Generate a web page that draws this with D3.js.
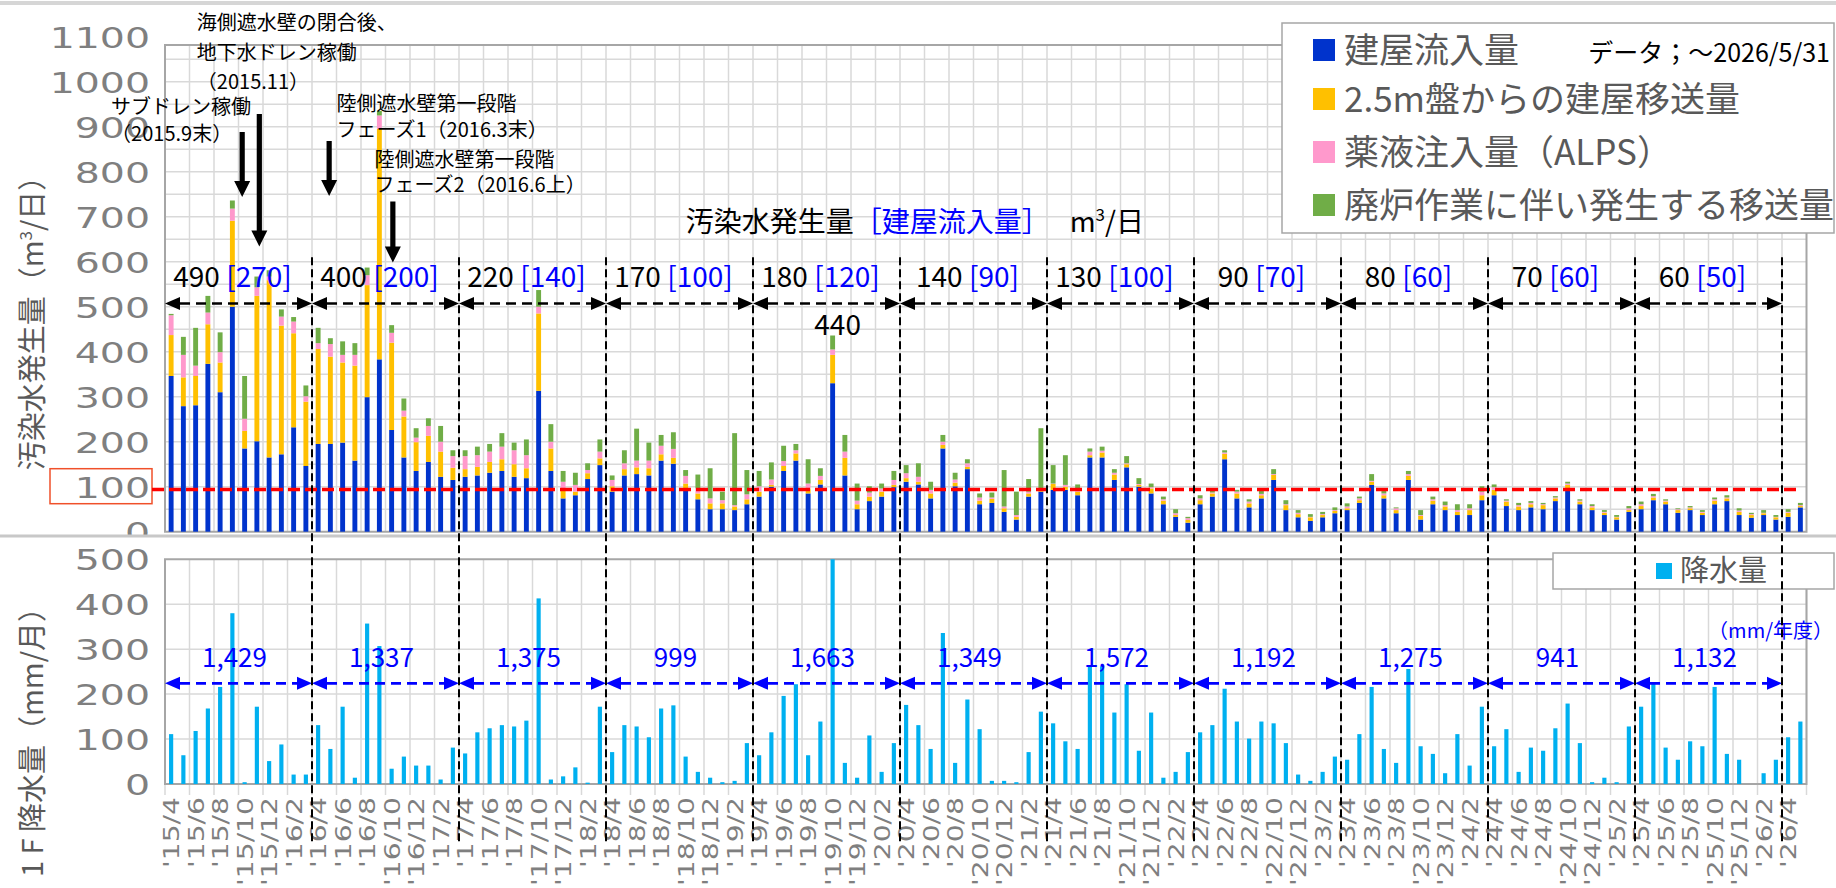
<!DOCTYPE html>
<html><head><meta charset="utf-8">
<script src="https://cdn.jsdelivr.net/npm/d3@7"></script>
<style>body{margin:0;background:#fff}svg{display:block}</style>
</head><body><svg id="c" width="1836" height="888"></svg>
<script>
// ---------------- DATA ----------------
const months = [];
for (let y = 2015, m = 4; months.length < 134;) { months.push("'" + String(y).slice(2) + "/" + m); m++; if (m > 12) { m = 1; y++; } }

const inflow = [346,279,281,373,310,500,185,201,165,172,232,146,
195,195,198,158,299,383,226,165,135,155,122,115,
122,125,131,135,122,119,313,135,74,81,117,148,
89,125,128,125,158,151,94,72,50,50,48,61,
78,100,135,158,85,105,330,125,50,68,78,99,
111,105,74,185,101,139,61,64,44,27,78,89,
93,93,81,165,165,115,143,100,85,61,33,20,
61,78,161,74,54,74,115,48,32,24,32,41,
48,64,104,74,41,115,27,61,48,37,37,70,
81,57,48,54,50,68,94,61,48,37,27,44,
50,70,61,42,48,37,61,68,37,31,37,27,33,54];
const transfer25 = [91,64,65,88,66,191,39,323,394,286,209,143,
211,194,178,211,249,512,194,91,64,58,56,27,
17,19,24,26,28,22,172,50,19,8,13,15,
12,14,15,16,14,13,13,13,13,13,8,11,
11,4,11,16,11,10,63,39,11,10,11,5,
8,6,11,8,8,5,8,9,8,6,7,3,
13,7,8,5,11,12,7,4,11,8,4,6,
9,7,12,11,9,7,11,11,7,8,5,5,
4,6,7,7,7,9,8,8,8,7,11,11,
12,10,8,7,9,6,10,6,6,5,5,4,
7,6,6,6,4,5,8,6,7,6,4,5,9,3];
const alpsInj = [44,50,23,26,23,27,27,19,8,20,26,12,
13,28,17,24,22,30,22,13,10,22,22,26,
29,26,23,28,31,29,15,15,18,15,7,15,
14,13,15,17,19,20,17,11,11,7,3,11,
12,12,11,7,11,9,12,14,8,9,7,11,
11,11,8,7,7,8,7,3,4,4,4,2,
1,4,7,8,4,4,2,2,3,3,4,4,
4,2,3,4,4,3,2,2,3,1,2,2,
4,4,2,4,4,4,2,3,3,4,4,8,
6,2,3,3,2,2,3,2,3,2,1,4,
4,3,2,2,2,2,3,2,3,2,1,1,2,2];
const decom = [3,40,84,37,44,18,95,24,14,16,10,24,
34,13,30,26,17,10,17,27,21,17,35,13,
13,19,17,30,17,35,37,39,24,27,15,27,
10,29,71,40,24,37,13,31,67,19,160,54,
34,38,34,14,54,17,31,37,38,14,11,20,
18,30,18,15,15,9,9,11,81,52,28,136,
41,66,9,7,9,8,16,13,8,6,9,3,
7,4,5,4,5,7,11,9,6,6,5,6,
7,4,15,8,2,7,11,6,8,13,9,12,
6,3,5,4,3,3,4,3,4,4,4,5,
6,5,3,2,3,4,4,5,5,3,6,4,6,5];
const rain = [111,64,118,168,216,380,4,172,51,88,21,21,
131,78,172,14,357,307,34,61,41,41,10,81,
68,115,124,131,128,141,413,10,17,37,3,172,
71,131,128,104,168,175,61,27,14,4,7,91,
64,115,196,222,64,139,576,47,14,108,27,91,
176,131,78,336,47,188,122,7,7,4,71,161,
135,95,78,262,262,159,222,74,159,14,27,71,
115,131,212,139,101,139,135,91,21,7,27,61,
54,111,216,78,47,256,84,67,24,111,41,172,
84,122,27,81,74,124,179,91,4,14,4,128,
172,225,81,54,95,84,216,67,54,0,24,54,104,139];

const fyTotal = [490,400,220,170,180,140,130,90,80,70,60];
const fyInflow = [270,200,140,100,120,90,100,70,60,60,50];
const fyRain = ["1,429","1,337","1,375","999","1,663","1,349","1,572","1,192","1,275","941","1,132"];
const yTicksTop = [0,100,200,300,400,500,600,700,800,900,1000,1100];
const yTicksRain = [0,100,200,300,400,500];
const seriesNames = ["建屋流入量","2.5m盤からの建屋移送量","薬液注入量（ALPS）","廃炉作業に伴い発生する移送量"];
const seriesColors = ["#0033cc","#ffc000","#ff99cc","#70ad47"];
const targetLine = 94;
const peakLabel = {i: 54, text: "440", v: 459};

// ---------------- LAYOUT ----------------
const W = 1836, H = 888;
const X0 = 165, X1 = 1806.5;
const N = months.length;
const FJ = '"Noto Sans CJK JP","Noto Sans",sans-serif';
const FN = '"DejaVu Sans",sans-serif';
const GRAY = "#595959", GRID = "#d9d9d9", BORDER = "#a6a6a6", BLUE = "#0000ff";

const xm = d3.scaleLinear().domain([0, N]).range([X0, X1]);
const xb = d3.scaleBand().domain(d3.range(N)).range([X0, X1]).paddingInner(0.6).paddingOuter(0.3);
const xr = d3.scaleBand().domain(d3.range(N)).range([X0, X1]).paddingInner(0.66).paddingOuter(0.33);
const xl = d3.scaleBand().domain(months).range([X0, X1]);
const yTop = d3.scaleLinear().domain([0, 1100]).range([531.7, 36.7]);
const yRain = d3.scaleLinear().domain([0, 500]).range([784, 559.3]);
const TOP_Y0 = 45, TOP_Y1 = 531.7, RAIN_Y0 = 559.3, RAIN_Y1 = 784;

const svg = d3.select("#c");
svg.append("rect").attr("width", W).attr("height", H).attr("fill", "#fff");
svg.append("rect").attr("x", 0).attr("y", 1).attr("width", W).attr("height", 4).attr("fill", "#d6d6d6");

// ---------- TOP PANEL ----------
const gT = svg.append("g");
gT.selectAll("line.h").data(d3.range(50, 1100, 50)).join("line")
  .attr("x1", X0).attr("x2", X1).attr("y1", d => yTop(d)).attr("y2", d => yTop(d))
  .attr("stroke", GRID).attr("stroke-width", 1.5);
gT.selectAll("line.v").data(d3.range(2, N, 2)).join("line")
  .attr("x1", d => xm(d)).attr("x2", d => xm(d)).attr("y1", TOP_Y0).attr("y2", TOP_Y1)
  .attr("stroke", GRID).attr("stroke-width", 1.5);
gT.append("path").attr("d", `M${X0},${TOP_Y1}V${TOP_Y0}H${X1}V${TOP_Y1}Z`)
  .attr("fill", "none").attr("stroke", BORDER).attr("stroke-width", 2);

const rows = d3.range(N).map(i => ({i, b: inflow[i], o: transfer25[i], p: alpsInj[i], g: decom[i]}));
const stack = d3.stack().keys(["b", "o", "p", "g"])(rows);
gT.selectAll("g.s").data(stack).join("g").attr("fill", (d, k) => seriesColors[k])
  .selectAll("rect").data(d => d).join("rect")
  .attr("x", d => xb(d.data.i)).attr("width", xb.bandwidth())
  .attr("y", d => yTop(d[1])).attr("height", d => Math.max(0, yTop(d[0]) - yTop(d[1])));

// y axis labels (top)
const axT = svg.append("g").attr("transform", "translate(150,0)")
  .call(d3.axisLeft(yTop).tickValues(yTicksTop).tickFormat(d3.format("d")).tickSize(0).tickPadding(0));
axT.select(".domain").remove();
axT.selectAll("text").attr("font-family", FN).attr("font-size", 29).attr("fill", "#7f7f7f")
  .attr("dy", "0.36em").attr("x", 0)
  .each(function () { const L = this.getComputedTextLength(); d3.select(this).attr("textLength", L * 1.36).attr("lengthAdjust", "spacingAndGlyphs"); });
// red box around 100
svg.append("rect").attr("x", 50).attr("y", yTop(100) - 18).attr("width", 102).attr("height", 35)
  .attr("fill", "none").attr("stroke", "#f0502a").attr("stroke-width", 1.5);
// target line
svg.append("line").attr("x1", 152).attr("x2", 1800).attr("y1", yTop(targetLine)).attr("y2", yTop(targetLine))
  .attr("stroke", "#ff0000").attr("stroke-width", 3.5).attr("stroke-dasharray", "12,5");

// title inside top
const tt = svg.append("text").attr("x", xm(42.5)).attr("y", yTop(688)).attr("dy", "0.36em")
  .attr("font-family", FJ).attr("font-size", 28).attr("fill", "#000");
tt.append("tspan").text("汚染水発生量");
tt.append("tspan").attr("fill", BLUE).text("［建屋流入量］");
tt.append("tspan").attr("dx", 20).text("m");
tt.append("tspan").attr("font-size", 17).attr("dy", -11).text("3");
tt.append("tspan").attr("dy", 11).text("/日");

// peak label
svg.append("text").attr("x", xm(peakLabel.i + 0.5) + 5).attr("y", yTop(peakLabel.v)).attr("dy", "0.36em")
  .attr("text-anchor", "middle").attr("font-family", FJ).attr("font-size", 28).text(peakLabel.text);

// annotations
const notes = [
  {m: 2.6, v: 1130, t: "海側遮水壁の閉合後、"},
  {m: 2.6, v: 1064, t: "地下水ドレン稼働"},
  {m: 2.6, v: 1000, t: "（2015.11）"},
  {m: -4.4, v: 945, t: "サブドレン稼働"},
  {m: -4.4, v: 885, t: "（2015.9末）"},
  {m: 14.0, v: 952, t: "陸側遮水壁第一段階"},
  {m: 14.0, v: 894, t: "フェーズ1（2016.3末）"},
  {m: 17.1, v: 827, t: "陸側遮水壁第一段階"},
  {m: 17.1, v: 770, t: "フェーズ2（2016.6上）"}
];
svg.selectAll("text.note").data(notes).join("text").attr("class", "note")
  .attr("x", d => xm(d.m)).attr("y", d => yTop(d.v)).attr("dy", "0.36em")
  .attr("font-family", FJ).attr("font-size", 20).attr("fill", "#000").text(d => d.t);
const arrows = [{m: 6.3, v1: 888, v2: 744}, {m: 7.7, v1: 928, v2: 634}, {m: 13.4, v1: 868, v2: 746}, {m: 18.6, v1: 734, v2: 598}];
svg.selectAll("path.ann").data(arrows).join("path").attr("class", "ann")
  .attr("d", d => { const x = xm(d.m), y1 = yTop(d.v1), y2 = yTop(d.v2), s = 2.6, hw = 8, hh = 16;
    return `M${x - s},${y1}H${x + s}V${y2 - hh}H${x + hw}L${x},${y2}L${x - hw},${y2 - hh}H${x - s}Z`; })
  .attr("fill", "#000");

// legend top
const lg = svg.append("g");
lg.append("rect").attr("x", 1282).attr("y", 23).attr("width", 552).attr("height", 210)
  .attr("fill", "#fff").attr("stroke", BORDER).attr("stroke-width", 1.5);
const lgY = [50, 99, 152, 205];
seriesNames.forEach((n, k) => {
  lg.append("rect").attr("x", 1313).attr("y", lgY[k] - 11).attr("width", 22).attr("height", 22).attr("fill", seriesColors[k]);
  lg.append("text").attr("x", 1344).attr("y", lgY[k]).attr("dy", "0.36em").attr("font-family", FJ)
    .attr("font-size", 35).attr("fill", GRAY).text(n);
});
lg.append("text").attr("x", 1830).attr("y", 53).attr("dy", "0.36em").attr("text-anchor", "end")
  .attr("font-family", FJ).attr("font-size", 25).attr("fill", "#000").text("データ；～2026/5/31");

// y-axis title top
svg.append("text").attr("transform", "translate(33,316) rotate(-90)").attr("text-anchor", "middle").attr("dy", "0.36em")
  .attr("font-family", FJ).attr("font-size", 29).attr("fill", GRAY)
  .call(t => { t.append("tspan").text("汚染水発生量（m"); t.append("tspan").attr("font-size", 17).attr("dy", -11).text("3"); t.append("tspan").attr("dy", 11).text("/日）"); });

// ---------- BOTTOM PANEL ----------
svg.append("rect").attr("x", 0).attr("y", 537).attr("width", W).attr("height", H - 537).attr("fill", "#fff");
svg.append("rect").attr("x", 0).attr("y", 534.5).attr("width", W).attr("height", 3).attr("fill", "#c8c8c8");

const gR = svg.append("g");
gR.selectAll("line.h").data(yTicksRain.slice(1, -1)).join("line")
  .attr("x1", X0).attr("x2", X1).attr("y1", d => yRain(d)).attr("y2", d => yRain(d))
  .attr("stroke", GRID).attr("stroke-width", 1.5);
gR.selectAll("line.v").data(d3.range(0, N + 1, 2)).join("line")
  .attr("x1", d => xm(d)).attr("x2", d => xm(d)).attr("y1", RAIN_Y0).attr("y2", RAIN_Y1 + 11)
  .attr("stroke", GRID).attr("stroke-width", 1.5);
gR.append("path").attr("d", `M${X0},${RAIN_Y1}V${RAIN_Y0}H${X1}V${RAIN_Y1}Z`)
  .attr("fill", "none").attr("stroke", BORDER).attr("stroke-width", 2);
svg.append("clipPath").attr("id", "rc").append("rect").attr("x", X0).attr("y", RAIN_Y0).attr("width", X1 - X0).attr("height", RAIN_Y1 - RAIN_Y0);
gR.append("g").attr("clip-path", "url(#rc)").selectAll("rect").data(rain).join("rect")
  .attr("x", (d, i) => xr(i)).attr("width", xr.bandwidth())
  .attr("y", d => yRain(d)).attr("height", d => yRain(0) - yRain(d)).attr("fill", "#00b0f0");

const axR = svg.append("g").attr("transform", "translate(150,0)")
  .call(d3.axisLeft(yRain).tickValues(yTicksRain).tickFormat(d3.format("d")).tickSize(0).tickPadding(0));
axR.select(".domain").remove();
axR.selectAll("text").attr("font-family", FN).attr("font-size", 29).attr("fill", "#7f7f7f")
  .attr("dy", "0.36em").attr("x", 0)
  .each(function () { const L = this.getComputedTextLength(); d3.select(this).attr("textLength", L * 1.36).attr("lengthAdjust", "spacingAndGlyphs"); });

svg.append("text").attr("transform", "translate(33,735) rotate(-90)").attr("text-anchor", "middle").attr("dy", "0.36em")
  .attr("font-family", FJ).attr("font-size", 29).attr("fill", GRAY).text("1 F 降水量（mm/月）");

// x axis labels
const axX = svg.append("g").attr("transform", "translate(0,797)")
  .call(d3.axisBottom(xl).tickValues(months.filter((d, i) => i % 2 === 0)).tickSize(0));
axX.select(".domain").remove();
axX.selectAll("text").attr("transform", "rotate(-90)").attr("x", 0).attr("y", 0).attr("dy", "0.36em")
  .style("text-anchor", "end").attr("font-family", FN).attr("font-size", 22).attr("fill", "#7f7f7f")
  .each(function () { const L = this.getComputedTextLength(); d3.select(this).attr("textLength", L * 1.28).attr("lengthAdjust", "spacingAndGlyphs"); });

// rain legend
svg.append("rect").attr("x", 1553).attr("y", 553).attr("width", 281).attr("height", 36)
  .attr("fill", "#fff").attr("stroke", BORDER).attr("stroke-width", 1.5);
svg.append("rect").attr("x", 1656).attr("y", 563).attr("width", 16).attr("height", 16).attr("fill", "#00b0f0");
svg.append("text").attr("x", 1680).attr("y", 571).attr("dy", "0.36em").attr("font-family", FJ)
  .attr("font-size", 29).attr("fill", GRAY).text("降水量");
svg.append("text").attr("x", 1833).attr("y", yRain(340)).attr("dy", "0.36em").attr("text-anchor", "end")
  .attr("font-family", FJ).attr("font-size", 20).attr("fill", BLUE).text("（mm/年度）");

// ---------- FY spans ----------
function dblArrow(g, xa, xb2, y, color, w) {
  const L = 15, h = 13;
  g.append("line").attr("x1", xa + L).attr("x2", xb2 - L).attr("y1", y).attr("y2", y)
    .attr("stroke", color).attr("stroke-width", w).attr("stroke-dasharray", "10,6");
  g.append("path").attr("d", `M${xa},${y}L${xa + L},${y - h / 2}L${xa + L},${y + h / 2}Z`).attr("fill", color);
  g.append("path").attr("d", `M${xb2},${y}L${xb2 - L},${y - h / 2}L${xb2 - L},${y + h / 2}Z`).attr("fill", color);
}
const gA = svg.append("g");
fyTotal.forEach((t, k) => {
  const a = xm(k * 12), b = xm(k * 12 + 12), c = (a + b) / 2;
  dblArrow(gA, a, b, yTop(507), "#000", 2.6);
  const tx = gA.append("text").attr("x", c - 6).attr("y", yTop(567)).attr("dy", "0.36em").attr("text-anchor", "middle")
    .attr("font-family", FJ).attr("font-size", 28).attr("fill", "#000");
  tx.append("tspan").text(t + " ");
  tx.append("tspan").attr("fill", BLUE).text("[" + fyInflow[k] + "]");
  dblArrow(gA, a, b, yRain(224), BLUE, 2.6);
  gA.append("text").attr("x", c - 4).attr("y", yRain(282)).attr("dy", "0.36em").attr("text-anchor", "middle")
    .attr("font-family", FJ).attr("font-size", 26).attr("fill", BLUE).text(fyRain[k]);
});
// dividers
svg.selectAll("line.div").data(d3.range(12, N, 12)).join("line").attr("class", "div")
  .attr("x1", d => xm(d)).attr("x2", d => xm(d)).attr("y1", yTop(610)).attr("y2", 842)
  .attr("stroke", "#000").attr("stroke-width", 2).attr("stroke-dasharray", "8,4");
</script></body></html>
